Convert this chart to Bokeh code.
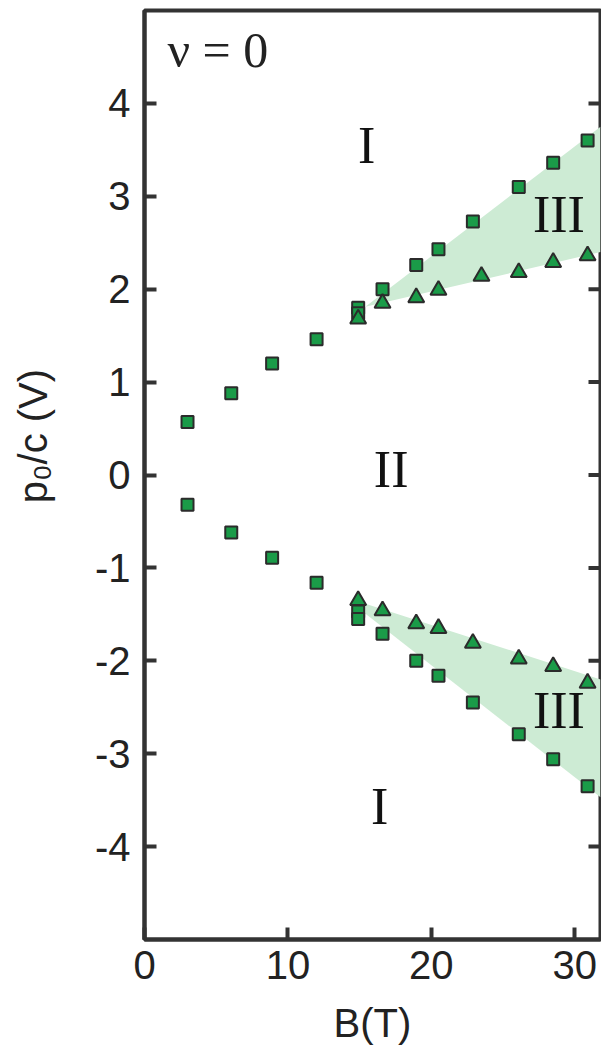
import math
from bokeh.plotting import figure
from bokeh.models import FixedTicker, Label, Range1d
from bokeh.core.properties import value
from bokeh.embed import file_html
from bokeh.resources import INLINE

# ---------------- data ----------------
B_range = (0, 31.8)
p_range = (-5, 5)
B_ticks = [0, 10, 20, 30]
B_tick_labels = ["0", "10", "20", "30"]
p_ticks = [-4, -3, -2, -1, 0, 1, 2, 3, 4]
p_tick_labels = ["-4", "-3", "-2", "-1", "0", "1", "2", "3", "4"]

# squares, upper branch
sq_up_B = [3.0, 6.05, 8.9, 12.0, 14.9, 14.9, 16.6, 18.95, 20.5, 22.9, 26.1, 28.5, 30.9]
sq_up_p = [0.57, 0.88, 1.20, 1.46, 1.80, 1.74, 2.00, 2.26, 2.43, 2.73, 3.10, 3.36, 3.60]
# squares, lower branch
sq_dn_B = [3.0, 6.05, 8.9, 12.0, 14.9, 14.9, 16.6, 18.95, 20.5, 22.9, 26.1, 28.5, 30.9]
sq_dn_p = [-0.32, -0.62, -0.89, -1.16, -1.47, -1.55, -1.71, -2.00, -2.16, -2.45, -2.79, -3.06, -3.35]
# triangles, upper branch
tri_up_B = [14.9, 16.6, 18.95, 20.5, 23.5, 26.1, 28.5, 30.9]
tri_up_p = [1.68, 1.85, 1.91, 1.99, 2.14, 2.18, 2.29, 2.36]
# triangles, lower branch
tri_dn_B = [14.9, 16.6, 18.95, 20.5, 22.9, 26.1, 28.5, 30.9]
tri_dn_p = [-1.35, -1.46, -1.60, -1.65, -1.81, -1.98, -2.06, -2.24]

# shaded phase III regions (outline vertices)
band_up_B = [15.4, 31.8, 31.8]
band_up_p = [1.81, 3.75, 2.40]
band_dn_B = [15.3, 31.8, 31.8, 15.3]
band_dn_p = [-1.38, -2.20, -3.47, -1.48]

# region labels
region_text = ["I", "III", "II", "III", "I"]
region_B = [15.5, 28.9, 17.2, 28.9, 16.4]
region_p = [3.55, 2.80, 0.06, -2.53, -3.57]

# ---------------- style ----------------
AXIS = "#333333"
GREEN = "#1a9b48"
EDGE = "#2b2b2b"
FILL = "#cdebd4"
SANS = "Liberation Sans"
SERIF = "Liberation Serif"

# leading no-break spaces lift the (centred) y title a little above the frame centre
Y_TITLE = "\u00a0" * 7 + "p₀/c (V)"

p = figure(width=601, height=1050,
           x_range=Range1d(*B_range), y_range=Range1d(*p_range),
           output_backend="svg", toolbar_location=None,
           min_border_left=144, min_border_right=1,
           min_border_top=10, min_border_bottom=111,
           x_axis_label="B(T)", y_axis_label=Y_TITLE)
p.grid.visible = False
p.background_fill_color = "white"
p.border_fill_color = "white"
p.outline_line_color = AXIS
p.outline_line_width = 4

for ax in (p.xaxis[0], p.yaxis[0]):
    ax.axis_line_color = AXIS
    ax.axis_line_width = 4
    ax.major_tick_line_color = AXIS
    ax.major_tick_line_width = 4
    ax.major_tick_in = 12
    ax.major_tick_out = 0
    ax.minor_tick_line_color = None
    ax.major_label_text_font = SANS
    ax.major_label_text_font_size = "40px"
    ax.major_label_text_color = "#222222"
    ax.axis_label_text_font = SANS
    ax.axis_label_text_font_size = "40px"
    ax.axis_label_text_font_style = "normal"
    ax.axis_label_text_color = "#222222"

p.xaxis[0].ticker = FixedTicker(ticks=B_ticks)
p.xaxis[0].major_label_overrides = {t: l for t, l in zip(B_ticks, B_tick_labels)}
p.xaxis[0].major_label_standoff = 11
p.xaxis[0].axis_label_standoff = 19

p.yaxis[0].ticker = FixedTicker(ticks=p_ticks)
p.yaxis[0].major_label_overrides = {t: l for t, l in zip(p_ticks, p_tick_labels)}
p.yaxis[0].major_label_standoff = 14
p.yaxis[0].axis_label_standoff = 37

# inward ticks on the right-hand frame edge
p.ray(x=[B_range[1]] * len(p_ticks), y=p_ticks, length=12, length_units="screen",
      angle=math.pi, line_color=AXIS, line_width=4)

# shaded regions
p.patch(band_up_B, band_up_p, fill_color=FILL, line_color=None)
p.patch(band_dn_B, band_dn_p, fill_color=FILL, line_color=None)

# markers
p.scatter(sq_up_B, sq_up_p, marker="square", size=12, fill_color=GREEN, line_color=EDGE, line_width=2)
p.scatter(sq_dn_B, sq_dn_p, marker="square", size=12, fill_color=GREEN, line_color=EDGE, line_width=2)
p.scatter(tri_up_B, tri_up_p, marker="triangle", size=16, fill_color=GREEN, line_color=EDGE, line_width=2)
p.scatter(tri_dn_B, tri_dn_p, marker="triangle", size=16, fill_color=GREEN, line_color=EDGE, line_width=2)

# region labels
p.text(x=region_B, y=region_p, text=region_text,
       text_font=value(SERIF), text_font_size="52px",
       text_align="center", text_baseline="alphabetic", text_color="#111111")

p.add_layout(Label(x=1.6, y=4.57, text="ν = 0", text_font=SERIF,
                   text_font_size="50px", text_baseline="alphabetic",
                   text_color="#222222"))

open("out.html", "w").write(file_html(p, INLINE))
